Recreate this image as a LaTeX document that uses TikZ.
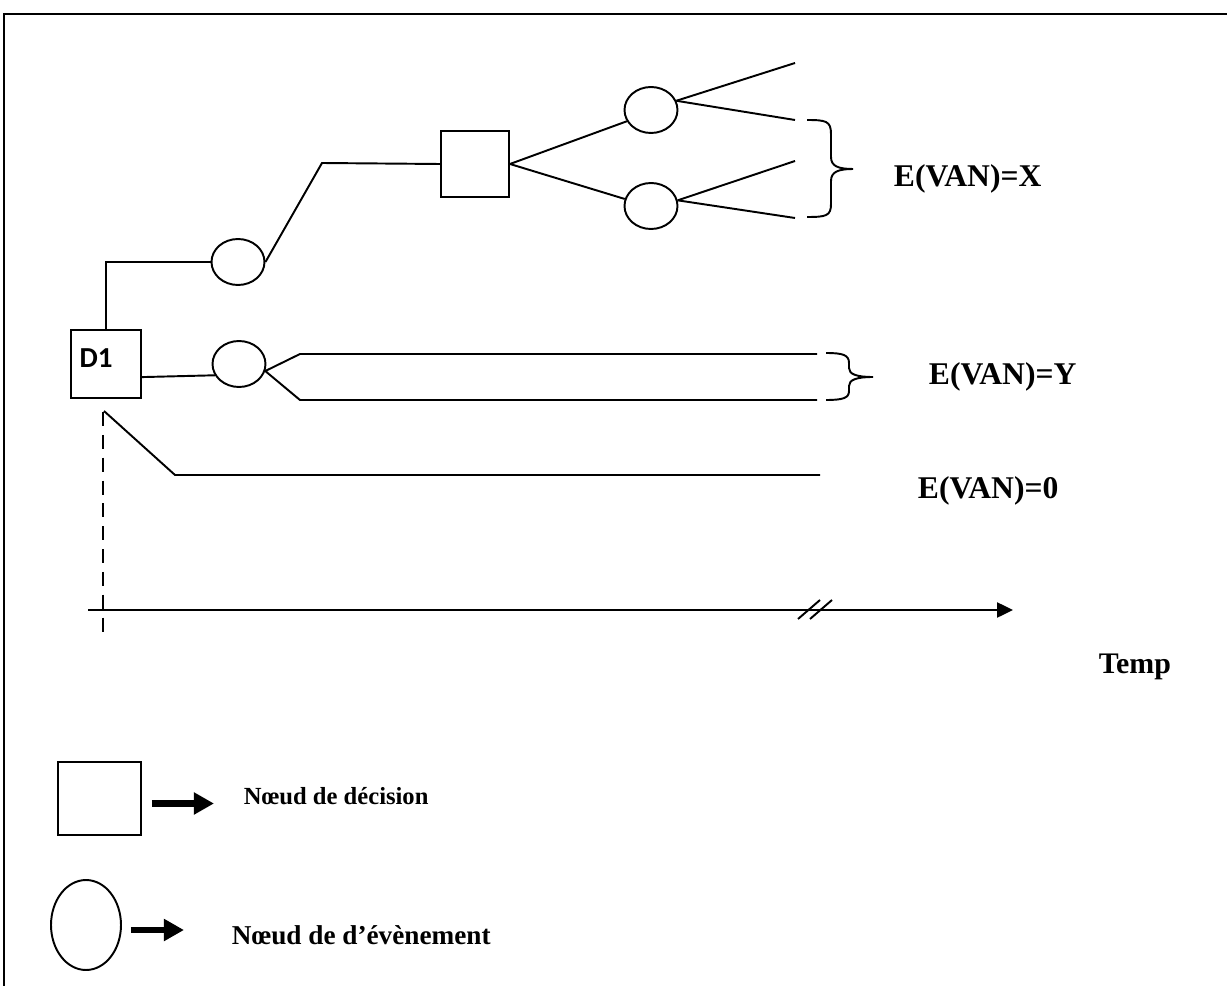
\documentclass[tikz,border=0pt]{standalone}
\usepackage{fontspec}
\setmainfont{Liberation Serif}
\newfontfamily\dlfont{Carlito}
\usetikzlibrary{shapes.geometric,arrows.meta}
\begin{document}
\begin{tikzpicture}[x=0.02cm,y=-0.02cm, line width=1.1pt,
  decnode/.style={draw, rectangle, inner sep=0pt},
  evtnode/.style={draw, ellipse, inner sep=0pt, minimum width=1.06cm, minimum height=0.92cm},
  lbl/.style={font=\bfseries\fontsize{18}{20}\selectfont, anchor=base west, inner sep=0pt},
  leglbl/.style={font=\bfseries\fontsize{15.5}{18}\selectfont, anchor=base west, inner sep=0pt},
  legarrow/.style={line width=3.8pt, -{Triangle[length=0.4cm,width=0.42cm]}},
  bracepath/.style={line width=1.1pt}]
\useasboundingbox (0,0) rectangle (1227,986);
% frame
\draw[line width=1.7pt] (4,986) -- (4,14) -- (1227,14);

% nodes
\node[decnode, minimum width=1.4cm, minimum height=1.36cm] (d1) at (106,364) {};
\node[font=\dlfont\bfseries\fontsize{16.5}{18}\selectfont, inner sep=0pt] (d1lbl) at (96,358) {D1};
\node[evtnode] (c1) at (238,262) {};
\node[decnode, minimum width=1.36cm, minimum height=1.32cm] (s2) at (475,164) {};
\node[evtnode] (c3) at (651,110) {};
\node[evtnode] (c4) at (651,206) {};
\node[evtnode] (c2) at (239,364) {};

% branch ends
\coordinate (k1) at (322,163);
\coordinate (e1) at (795,63);
\coordinate (e2) at (795,120);
\coordinate (e3) at (795,161);
\coordinate (e4) at (795,218);
\coordinate (y1a) at (300,354);
\coordinate (y1b) at (817,354);
\coordinate (y2a) at (300,400);
\coordinate (y2b) at (817,400);
\coordinate (o) at (104,411);
\coordinate (z1) at (175,475);
\coordinate (z2) at (820,475);

% connectors
\draw (d1.north) |- (c1.west);
\draw (c1.east) -- (k1) -- (s2.west);
\draw (s2.east) -- (c3.205);
\draw (s2.east) -- (c4.165);
\draw (c3.20) -- (e1);
\draw (c3.20) -- (e2);
\draw (c4.12) -- (e3);
\draw (c4.12) -- (e4);
\draw (d1.-20) -- (c2.205);
\draw (y1b) -- (y1a) -- (c2.-15) -- (y2a) -- (y2b);
\draw (o) -- (z1) -- (z2);

% braces
\draw[bracepath] (807,120) .. controls (826,120) and (831,121) .. (831,134)
  -- (831,157) .. controls (831,166) and (838,169) .. (853,169)
  .. controls (838,169) and (831,172) .. (831,181)
  -- (831,204) .. controls (831,216) and (826,217) .. (807,217);
\draw[bracepath] (826,353) .. controls (843,353) and (849,355) .. (849,363)
  -- (849,368) .. controls (849,374) and (856,377) .. (873,377)
  .. controls (856,377) and (849,380) .. (849,386)
  -- (849,391) .. controls (849,398) and (843,400) .. (826,400);

% labels
\node[lbl] (lx) at (893,187) {E(VAN)=X};
\node[lbl] (ly) at (928,385) {E(VAN)=Y};
\node[lbl] (l0) at (917,498) {E(VAN)=0};

% time axis
\draw[dash pattern=on 8pt off 5pt, line width=1.2pt] (103,412) -- (103,640);
\coordinate (ax0) at (88,610);
\coordinate (ax1) at (1013,610);
\draw[-{Triangle[length=0.32cm,width=0.3cm]}, line width=1.4pt] (ax0) -- (ax1);
\draw (798,619) -- (820,600);
\draw (810,619) -- (832,600);
\node[lbl, font=\bfseries\fontsize{17}{19}\selectfont] (tmp) at (1098,673) {Temp};

% legend
\node[decnode, minimum width=1.66cm, minimum height=1.46cm] (ls) at (99.5,798.5) {};
\node[draw, ellipse, inner sep=0pt, minimum width=1.4cm, minimum height=1.8cm] (le) at (86,925) {};
\draw[legarrow] ([xshift=0.2cm, yshift=-0.1cm]ls.east) -- ++(62,0);
\draw[legarrow] ([xshift=0.18cm, yshift=-0.1cm]le.east) -- ++(53,0);
\node[leglbl, font=\bfseries\fontsize{14}{17}\selectfont] (t1) at (243,804) {Nœud de décision};
\node[leglbl] (t2) at (231,944) {Nœud de d’évènement};
\end{tikzpicture}
\end{document}
